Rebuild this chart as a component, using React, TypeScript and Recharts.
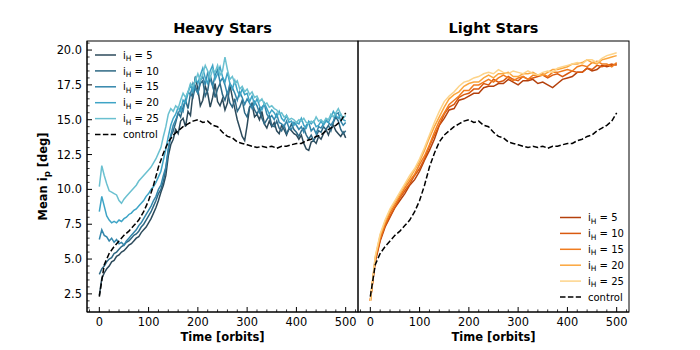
import { LineChart, Line, XAxis, YAxis } from 'recharts';

// heavy-star runs sampled every 5 orbits, light-star runs and control every 10
const HEAVY_STEP = 5;
const LIGHT_STEP = 10;

const H5 = [
  2.4, 3.6, 4.0, 4.3, 4.5, 4.8, 4.9, 5.2, 5.3, 5.5,
  5.6, 5.8, 6.0, 6.1, 6.3, 6.5, 6.6, 6.9, 7.1, 7.3,
  7.6, 7.9, 8.3, 8.7, 9.2, 9.8, 10.3, 11.0, 12.4, 13.2,
  13.6, 14.3, 14.0, 14.9, 15.1, 14.5, 15.6, 15.3, 16.9, 18.1,
  17.2, 16.0, 16.4, 17.4, 16.9, 15.9, 16.6, 17.6, 16.3, 16.0,
  16.5, 15.7, 16.2, 17.5, 16.6, 15.8, 15.0, 14.4, 13.8, 13.5,
  14.6, 15.9, 16.1, 15.2, 15.4, 15.0, 15.6, 14.7, 14.4, 14.9,
  14.5, 14.8, 14.2, 14.0, 14.6, 14.3, 13.9, 14.4, 14.2, 14.0,
  13.9, 13.6, 13.9, 13.3, 12.9, 12.8, 13.4, 13.5, 13.3, 13.8,
  13.6, 14.0, 14.3, 13.9, 14.4, 14.6, 14.2, 14.0, 13.8, 14.1,
  13.7,
];
const H10 = [
  3.9, 4.3, 4.5, 4.8, 5.0, 5.1, 5.4, 5.5, 5.7, 5.9,
  6.0, 6.2, 6.3, 6.5, 6.7, 6.8, 7.0, 7.3, 7.5, 7.8,
  8.1, 8.4, 8.8, 9.2, 9.7, 10.0, 10.6, 11.5, 12.8, 13.8,
  14.2, 14.8, 15.5, 15.2, 15.9, 16.4, 15.8, 16.9, 16.6, 17.4,
  16.9, 17.6, 17.8, 16.7, 17.1, 18.2, 17.5, 16.6, 17.2, 17.6,
  16.8, 16.4, 17.0, 16.2, 15.9, 16.5, 15.6, 15.9, 16.4, 15.5,
  15.2, 15.9, 16.2, 15.7, 15.4, 15.8, 15.1, 14.7, 15.0, 15.3,
  14.6, 14.5, 14.9, 14.4, 14.2, 14.6, 14.0, 14.3, 14.7, 14.3,
  14.1, 13.8, 14.2, 14.4, 13.9, 13.6, 13.9, 13.5, 13.8, 14.2,
  14.1, 14.5, 14.3, 14.6, 14.2, 14.8, 15.2, 14.9, 14.3, 14.0,
  14.2,
];
const H15 = [
  6.4, 7.1, 6.7, 6.6, 6.3, 6.5, 6.2, 6.4, 6.1, 6.2,
  6.0, 6.3, 6.5, 6.7, 6.9, 7.1, 7.4, 7.6, 7.9, 8.2,
  8.5, 8.8, 9.2, 9.5, 10.0, 10.3, 11.0, 11.6, 12.9, 13.9,
  14.6, 15.0, 15.4, 15.9, 15.6, 16.5, 17.0, 16.8, 17.6, 17.2,
  16.9, 17.8, 18.1, 17.5, 18.4, 17.9, 17.4, 18.2, 18.6, 17.7,
  18.0, 17.5, 16.8, 17.6, 17.3, 16.9, 16.4, 17.0, 16.6, 16.1,
  16.5, 16.2, 15.8, 16.3, 16.0, 15.5, 15.9, 16.1, 15.4, 15.1,
  15.3, 15.0, 15.4, 14.8, 14.7, 14.5, 14.9, 14.4, 14.3, 14.8,
  14.6, 14.3, 14.5, 14.1, 14.6, 14.8, 14.2, 14.4, 14.0, 14.5,
  14.4, 14.7, 15.0, 14.8, 14.6, 14.9, 15.4, 15.5, 14.9, 14.6,
  14.8,
];
const H20 = [
  8.4, 9.5, 8.8, 8.1, 7.8, 7.6, 7.7, 7.6, 7.8, 7.7,
  7.9, 8.0, 8.2, 8.3, 8.5, 8.6, 8.8, 9.0, 9.2, 9.5,
  9.7, 10.0, 10.2, 10.5, 10.9, 11.3, 12.1, 12.9, 13.8, 14.6,
  15.1, 15.4, 15.9, 15.6, 16.4, 16.2, 16.9, 17.5, 17.0, 18.0,
  17.6, 18.2, 18.7, 18.0, 17.6, 18.5, 18.9, 17.9, 18.3, 18.8,
  18.1, 17.7, 18.4, 17.6, 17.2, 17.8, 17.1, 16.7, 17.2, 16.8,
  16.9, 16.3, 16.7, 16.1, 16.5, 16.0, 15.7, 16.2, 15.8, 15.4,
  15.7, 15.5, 15.2, 15.6, 15.1, 14.9, 15.3, 14.8, 14.9, 14.6,
  14.8, 14.7, 15.1, 14.6, 14.4, 14.9, 14.7, 14.9, 14.5, 14.6,
  14.9, 14.6, 14.9, 14.8, 15.2, 15.6, 15.3, 15.1, 15.4, 15.0,
  14.9,
];
const H25 = [
  10.2, 11.7, 11.0, 10.4, 9.9, 9.8, 9.7, 9.6, 9.2, 9.0,
  9.3, 9.5, 9.7, 9.9, 10.1, 10.3, 10.6, 10.8, 11.0, 11.2,
  11.4, 11.6, 11.9, 12.2, 12.6, 13.0, 13.8, 14.5, 15.4, 15.8,
  15.6, 16.0, 15.8, 16.4, 16.9, 16.6, 17.0, 17.6, 17.4, 17.8,
  18.3, 17.8, 18.3, 18.9, 18.5, 18.0, 18.6, 18.4, 18.9, 18.2,
  18.5, 19.5, 18.6, 17.9, 18.1, 17.6, 17.8, 17.2, 17.4, 17.0,
  17.2, 16.8, 17.0, 16.6, 16.7, 16.3, 16.5, 16.1, 16.2, 15.9,
  16.0, 15.8, 15.7, 15.4, 15.5, 15.2, 15.3, 15.0, 15.1, 15.0,
  14.8, 15.0, 14.9, 15.1, 14.8, 14.7, 14.9, 14.8, 15.2, 14.9,
  15.0, 14.8, 15.1, 15.0, 15.4, 15.2, 15.5, 15.8, 15.4, 15.1,
  15.3,
];

const L5 = [
  2.0, 4.8, 6.3, 7.3, 8.0, 8.7, 9.2, 9.7, 10.3, 10.7,
  11.3, 12.1, 12.8, 13.6, 14.6, 15.1, 15.7, 15.8, 16.4, 16.5,
  16.7, 16.9, 16.9, 17.3, 17.4, 17.4, 17.6, 17.6, 17.9, 17.7,
  17.5, 17.8, 17.8, 17.9, 17.6, 17.7, 17.5, 17.3, 17.6, 17.9,
  18.0, 18.1, 18.4, 18.4, 18.7, 18.5, 18.6, 18.9, 18.8, 18.9,
  19.0,
];
const L10 = [
  2.0, 4.9, 6.4, 7.4, 8.1, 8.7, 9.4, 9.9, 10.4, 11.0,
  11.5, 12.2, 13.1, 13.9, 14.6, 15.4, 15.9, 16.1, 16.6, 16.8,
  16.9, 17.2, 17.2, 17.6, 17.5, 17.9, 17.7, 17.8, 18.1, 17.9,
  17.8, 18.1, 17.9, 18.0, 18.1, 18.2, 18.0, 18.2, 18.3, 18.1,
  18.3, 18.5, 18.4, 18.4, 18.7, 18.6, 18.9, 18.8, 18.9, 19.0,
  18.9,
];
const L15 = [
  2.0, 5.0, 6.5, 7.5, 8.3, 8.9, 9.5, 10.1, 10.6, 11.1,
  11.8, 12.4, 13.2, 14.1, 14.9, 15.5, 16.1, 16.4, 16.7, 17.1,
  17.1, 17.5, 17.5, 17.7, 17.9, 17.7, 18.0, 18.2, 18.0, 17.8,
  18.0, 18.1, 17.9, 18.2, 18.2, 18.3, 18.1, 18.4, 18.4, 18.5,
  18.6, 18.5, 18.8, 18.9, 18.8, 19.1, 19.2, 19.0, 19.0, 18.8,
  19.1,
];
const L20 = [
  2.0, 5.1, 6.7, 7.7, 8.5, 9.1, 9.7, 10.3, 10.8, 11.4,
  12.0, 12.8, 13.7, 14.5, 15.2, 15.9, 16.5, 16.8, 17.0, 17.4,
  17.6, 17.7, 17.7, 18.0, 18.2, 18.0, 18.3, 18.3, 18.4, 18.1,
  18.1, 18.3, 18.3, 18.4, 18.2, 18.2, 18.4, 18.6, 18.6, 18.7,
  18.8, 19.0, 19.0, 19.1, 19.3, 19.1, 19.0, 19.3, 19.4, 19.5,
  19.6,
];
const L25 = [
  2.0, 5.2, 6.8, 7.8, 8.6, 9.2, 9.8, 10.4, 11.0, 11.5,
  12.2, 13.0, 13.9, 14.8, 15.6, 16.3, 16.7, 17.0, 17.4, 17.7,
  17.8, 18.0, 18.1, 18.3, 18.4, 18.3, 18.6, 18.4, 18.3, 18.5,
  18.4, 18.3, 18.5, 18.3, 18.2, 18.4, 18.5, 18.4, 18.7, 18.8,
  18.9, 19.0, 19.1, 19.0, 19.3, 19.3, 19.1, 19.4, 19.6, 19.7,
  19.8,
];
const CONTROL = [
  2.3, 4.6, 5.4, 5.9, 6.3, 6.7, 7.0, 7.4, 7.8, 8.4,
  9.2, 10.3, 11.6, 12.6, 13.4, 13.9, 14.2, 14.5, 14.7, 14.9,
  15.0, 14.8, 14.9, 14.6, 14.5, 14.1, 13.8, 13.7, 13.4, 13.3,
  13.2, 13.1, 13.0, 13.1, 13.0, 13.1, 12.95, 13.1, 13.1, 13.2,
  13.3, 13.3, 13.5, 13.6, 13.8, 13.9, 14.2, 14.4, 14.6, 14.9,
  15.5,
];

const INCL = [5, 10, 15, 20, 25];
const HEAVY_COLORS = ['#2c4a5b', '#2e6884', '#3386ab', '#3ea4c6', '#6ac0d0'];
const LIGHT_COLORS = ['#b4400c', '#d9590f', '#f07c1f', '#fba63d', '#fdd48a'];
const HEAVY_KEYS = ['h5', 'h10', 'h15', 'h20', 'h25'];
const LIGHT_KEYS = ['l5', 'l10', 'l15', 'l20', 'l25'];

const X_MAJOR = [0, 100, 200, 300, 400, 500];
const Y_MAJOR = [2.5, 5.0, 7.5, 10.0, 12.5, 15.0, 17.5, 20.0];
const X_DOMAIN = [-25, 525];
const Y_DOMAIN = [1.2, 20.65];

const heavySeries = [H5, H10, H15, H20, H25];
const lightSeries = [L5, L10, L15, L20, L25];

const heavyData = H5.map((_, i) => {
  const row: Record<string, number | undefined> = { t: i * HEAVY_STEP };
  HEAVY_KEYS.forEach((k, j) => (row[k] = heavySeries[j][i]));
  row.control = i % 2 === 0 ? CONTROL[i / 2] : undefined;
  return row;
});

const lightData = L5.map((_, i) => {
  const row: Record<string, number> = { t: i * LIGHT_STEP };
  LIGHT_KEYS.forEach((k, j) => (row[k] = lightSeries[j][i]));
  row.control = CONTROL[i];
  return row;
});

// minor ticks: every 20 orbits, every 0.5 deg
const xTicks: number[] = [];
for (let v = -20; v <= 520; v += 20) xTicks.push(v);
const yTicks: number[] = [];
for (let k = 3; k <= 41; k++) yTicks.push(k * 0.5);

const FONT = 'DejaVu Sans';

const isMajorX = (v: number) => X_MAJOR.includes(v);
const isMajorY = (v: number) => Y_MAJOR.some((m) => Math.abs(m - v) < 1e-6);

function makeTick(side: 'left' | 'right' | 'top' | 'bottom', label: boolean) {
  return (props: any) => {
    const { x, y, payload } = props;
    const v = payload.value as number;
    const vertical = side === 'left' || side === 'right';
    const major = vertical ? isMajorY(v) : isMajorX(v);
    const len = major ? 5 : 2.6;
    let x2 = x;
    let y2 = y;
    if (side === 'left') x2 = x + len;
    if (side === 'right') x2 = x - len;
    if (side === 'bottom') y2 = y - len;
    if (side === 'top') y2 = y + len;
    return (
      <g>
        <line x1={x} y1={y} x2={x2} y2={y2} stroke="#000" strokeWidth={major ? 1 : 0.8} />
        {label && major && side === 'left' && (
          <text x={x - 5} y={y + 4} textAnchor="end" fontSize={11.4} fontFamily={FONT} fill="#000">
            {v.toFixed(1)}
          </text>
        )}
        {label && major && side === 'bottom' && (
          <text x={x} y={y + 14} textAnchor="middle" fontSize={11.4} fontFamily={FONT} fill="#000">
            {v}
          </text>
        )}
      </g>
    );
  };
}

function Frame({ yLabels }: { yLabels: boolean }) {
  const axisLine = { stroke: '#000', strokeWidth: 1 };
  return [
    <XAxis
      key="xb"
      dataKey="t"
      type="number"
      domain={X_DOMAIN}
      allowDataOverflow
      ticks={xTicks}
      interval={0}
      height={30}
      tickSize={0}
      tickMargin={0}
      tickLine={false}
      axisLine={axisLine}
      tick={makeTick('bottom', true)}
    />,
    <XAxis
      key="xt"
      xAxisId="top"
      orientation="top"
      dataKey="t"
      type="number"
      domain={X_DOMAIN}
      allowDataOverflow
      ticks={xTicks}
      interval={0}
      height={0}
      tickSize={0}
      tickMargin={0}
      tickLine={false}
      axisLine={axisLine}
      tick={makeTick('top', false)}
    />,
    <YAxis
      key="yl"
      type="number"
      domain={Y_DOMAIN}
      allowDataOverflow
      ticks={yTicks}
      interval={0}
      width={yLabels ? 40 : 0}
      tickSize={0}
      tickMargin={0}
      tickLine={false}
      axisLine={axisLine}
      tick={makeTick('left', yLabels)}
    />,
    <YAxis
      key="yr"
      yAxisId="right"
      orientation="right"
      type="number"
      domain={Y_DOMAIN}
      allowDataOverflow
      ticks={yTicks}
      interval={0}
      width={0}
      tickSize={0}
      tickMargin={0}
      tickLine={false}
      axisLine={axisLine}
      tick={makeTick('right', false)}
    />,
  ];
}

type LegendItem = { label: number | null; color: string; dashed?: boolean };

function LegendBlock({ x, y, items }: { x: number; y: number; items: LegendItem[] }) {
  return (
    <g fontFamily={FONT} fontSize={10}>
      {items.map((it, i) => {
        const cy = y + i * 15.9;
        return (
          <g key={i}>
            <line
              x1={x}
              x2={x + 21}
              y1={cy}
              y2={cy}
              stroke={it.color}
              strokeWidth={1.5}
              strokeDasharray={it.dashed ? '5.5 2.4' : undefined}
            />
            {it.label === null ? (
              <text x={x + 28} y={cy + 3.6} fill="#000">control</text>
            ) : (
              <text x={x + 28} y={cy + 3.6} fill="#000">
                i
                <tspan dy={2.5} fontSize={7.5}>H</tspan>
                <tspan dy={-2.5}>{` = ${it.label}`}</tspan>
              </text>
            )}
          </g>
        );
      })}
    </g>
  );
}

export default function App() {
  const heavyLegend: LegendItem[] = [
    ...INCL.map((v, i) => ({ label: v, color: HEAVY_COLORS[i] })),
    { label: null, color: '#000', dashed: true },
  ];
  const lightLegend: LegendItem[] = [
    ...INCL.map((v, i) => ({ label: v, color: LIGHT_COLORS[i] })),
    { label: null, color: '#000', dashed: true },
  ];

  return (
    <div style={{ position: 'absolute', left: 0, top: 0, width: 700, height: 350, background: '#fff' }}>
      <div style={{ position: 'absolute', left: 0, top: 0 }}>
        <LineChart width={360} height={350} data={heavyData} margin={{ top: 41, right: 2, bottom: 8, left: 47 }}>
          {Frame({ yLabels: true })}
          {HEAVY_KEYS.map((k, i) => (
            <Line
              key={k}
              dataKey={k}
              type="linear"
              stroke={HEAVY_COLORS[i]}
              strokeWidth={1.5}
              dot={false}
              activeDot={false}
              isAnimationActive={false}
            />
          ))}
          <Line
            dataKey="control"
            type="linear"
            stroke="#000"
            strokeWidth={1.5}
            strokeDasharray="5.5 2.4"
            dot={false}
            activeDot={false}
            connectNulls
            isAnimationActive={false}
          />
        </LineChart>
      </div>
      <div style={{ position: 'absolute', left: 0, top: 0 }}>
        <LineChart width={700} height={350} data={lightData} margin={{ top: 41, right: 71, bottom: 8, left: 358 }}>
          {Frame({ yLabels: false })}
          {LIGHT_KEYS.map((k, i) => (
            <Line
              key={k}
              dataKey={k}
              type="linear"
              stroke={LIGHT_COLORS[i]}
              strokeWidth={1.5}
              dot={false}
              activeDot={false}
              isAnimationActive={false}
            />
          ))}
          <Line
            dataKey="control"
            type="linear"
            stroke="#000"
            strokeWidth={1.5}
            strokeDasharray="5.5 2.4"
            dot={false}
            activeDot={false}
            isAnimationActive={false}
          />
        </LineChart>
      </div>
      <svg
        width={700}
        height={350}
        style={{ position: 'absolute', left: 0, top: 0, pointerEvents: 'none' }}
      >
        {/* panel frames */}
        <rect x={87} y={41} width={271} height={271} fill="none" stroke="#000" strokeWidth={1} />
        <rect x={358} y={41} width={271} height={271} fill="none" stroke="#000" strokeWidth={1} />
        <text x={222.5} y={33} textAnchor="middle" fontFamily={FONT} fontWeight="bold" fontSize={14.5}>
          Heavy Stars
        </text>
        <text x={493.5} y={33} textAnchor="middle" fontFamily={FONT} fontWeight="bold" fontSize={14.5}>
          Light Stars
        </text>
        <text x={222.5} y={341} textAnchor="middle" fontFamily={FONT} fontWeight="bold" fontSize={11.5}>
          Time [orbits]
        </text>
        <text x={493.5} y={341} textAnchor="middle" fontFamily={FONT} fontWeight="bold" fontSize={11.5}>
          Time [orbits]
        </text>
        <text
          x={0}
          y={0}
          transform="translate(47,176.5) rotate(-90)"
          textAnchor="middle"
          fontFamily={FONT}
          fontWeight="bold"
          fontSize={11.5}
        >
          Mean i
          <tspan dy={3} fontSize={8.5}>p</tspan>
          <tspan dy={-3}> [deg]</tspan>
        </text>
        <LegendBlock x={95} y={55} items={heavyLegend} />
        <LegendBlock x={560} y={217.5} items={lightLegend} />
      </svg>
    </div>
  );
}
